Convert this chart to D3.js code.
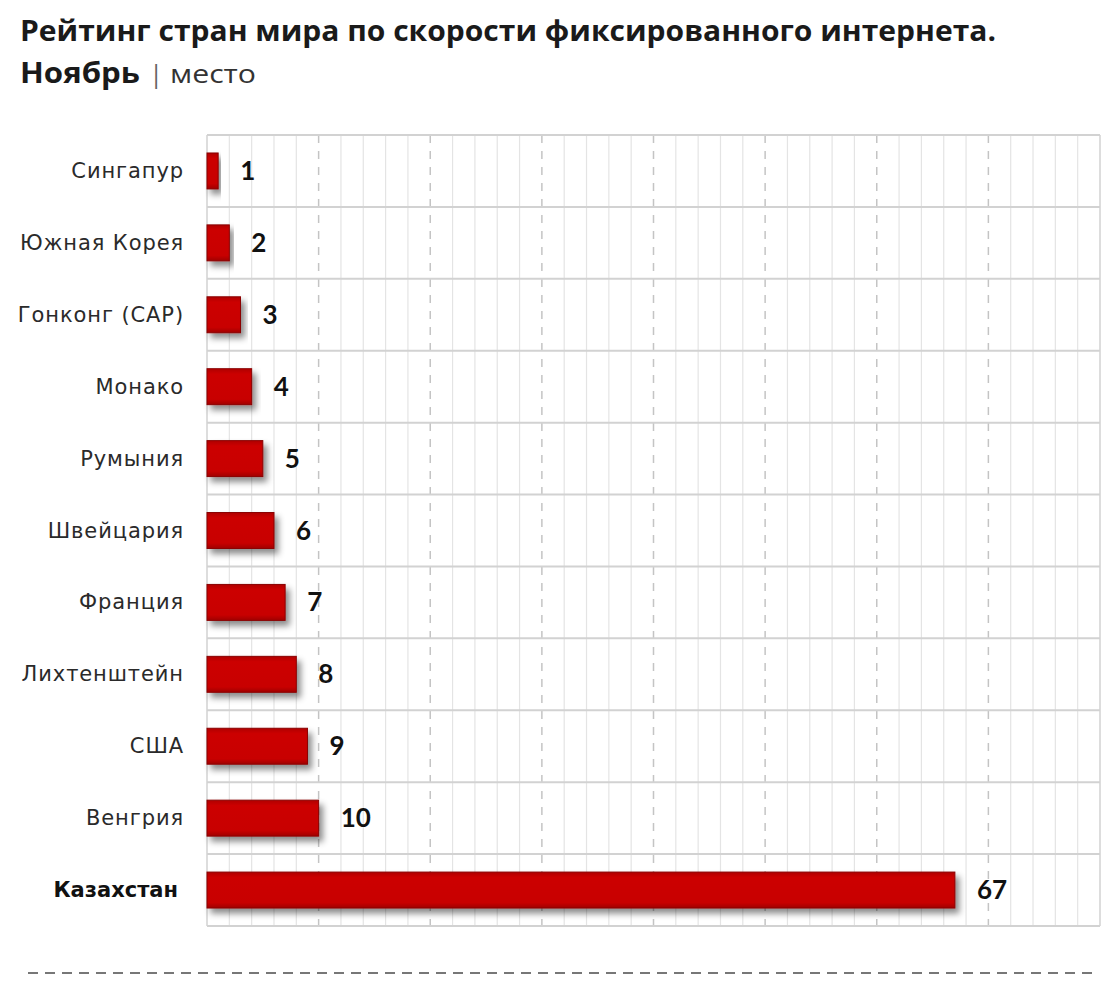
<!DOCTYPE html>
<html><head><meta charset="utf-8">
<script src="https://cdn.jsdelivr.net/npm/d3@7"></script>
<style>body{margin:0;background:#fff}</style>
</head><body>
<script>
const countries = ["Сингапур","Южная Корея","Гонконг (САР)","Монако","Румыния","Швейцария","Франция","Лихтенштейн","США","Венгрия","Казахстан"];
const ranks = [1,2,3,4,5,6,7,8,9,10,67];
const highlight = ["Казахстан"];
const xMax = 80;
const majorStep = 10, minorStep = 2;
const title = "Рейтинг стран мира по скорости фиксированного интернета.";
const subtitleBold = "Ноябрь";
const subtitleUnit = "место";

const W = 1120, H = 983;
const svg = d3.select("body").append("svg").attr("width", W).attr("height", H);
const defs = svg.append("defs");
const f = defs.append("filter").attr("id","sh").attr("x","-10%").attr("y","-30%").attr("width","130%").attr("height","180%");
f.append("feDropShadow").attr("dx",4).attr("dy",5).attr("stdDeviation",3).attr("flood-color","#000").attr("flood-opacity",0.45);
const g1 = defs.append("linearGradient").attr("id","bg").attr("x1",0).attr("y1",0).attr("x2",0).attr("y2",1);
g1.append("stop").attr("offset","0%").attr("stop-color","#b00000");
g1.append("stop").attr("offset","15%").attr("stop-color","#cc0000");
g1.append("stop").attr("offset","85%").attr("stop-color","#c80000");
g1.append("stop").attr("offset","100%").attr("stop-color","#a00000");

const L = 207, R = 1100, T = 135, B = 926;
const x = d3.scaleLinear().domain([0, xMax]).range([L, R]);
const y = d3.scaleBand().domain(countries).range([T, B]).paddingInner(0.5).paddingOuter(0.25);
const rowY = d3.scaleBand().domain(countries).range([T, B]);

// Title
svg.append("text").attr("x",20).attr("y",41).attr("font-family","Open Sans, sans-serif").attr("font-weight",700)
  .attr("font-size",29).attr("fill","#1a1a1a").attr("textLength",976).attr("lengthAdjust","spacingAndGlyphs").text(title);
const st = svg.append("text").attr("x",20).attr("y",83).attr("font-family","Open Sans, sans-serif").attr("fill","#1a1a1a");
st.append("tspan").attr("font-weight",700).attr("font-size",29).attr("textLength",120).attr("lengthAdjust","spacingAndGlyphs").text(subtitleBold);
st.append("tspan").attr("x",149).attr("font-size",26).attr("fill","#666").text("|");
st.append("tspan").attr("x",170).attr("font-size",25).attr("fill","#333").attr("textLength",86).attr("lengthAdjust","spacingAndGlyphs").text(subtitleUnit);

// Grid
const grid = svg.append("g");
const minor = d3.range(0, xMax + 0.001, minorStep).filter(v => v % majorStep !== 0);
grid.selectAll("line.mn").data(minor).join("line")
  .attr("x1", d => x(d)).attr("x2", d => x(d)).attr("y1", T).attr("y2", B)
  .attr("stroke","#e4e4e4").attr("stroke-width",1.2);
const major = d3.range(majorStep, xMax, majorStep);
grid.selectAll("line.mj").data(major).join("line")
  .attr("x1", d => x(d)).attr("x2", d => x(d)).attr("y1", T).attr("y2", B)
  .attr("stroke","#c4c4c4").attr("stroke-width",1.5).attr("stroke-dasharray","8,8");
grid.selectAll("line.rw").data(countries.concat(["_end"])).join("line")
  .attr("x1", L).attr("x2", R)
  .attr("y1", (d,i) => i < countries.length ? rowY(d) : B)
  .attr("y2", (d,i) => i < countries.length ? rowY(d) : B)
  .attr("stroke","#d2d2d2").attr("stroke-width",2);
grid.selectAll("line.bd").data([0, xMax]).join("line")
  .attr("x1", d => x(d)).attr("x2", d => x(d)).attr("y1", T).attr("y2", B)
  .attr("stroke","#d2d2d2").attr("stroke-width",1.5);

// Bars
svg.append("g").selectAll("rect").data(countries).join("rect")
  .attr("x", x(0)).attr("y", d => y(d))
  .attr("width", (d,i) => x(ranks[i]) - x(0)).attr("height", y.bandwidth())
  .attr("fill","url(#bg)").attr("stroke","#8a0000").attr("stroke-width",1)
  .attr("filter","url(#sh)");

// Value labels
svg.append("g").selectAll("text").data(countries).join("text")
  .attr("x", (d,i) => x(ranks[i]) + 22).attr("y", d => y(d) + y.bandwidth()/2 + 9)
  .attr("font-family","Lato, sans-serif").attr("font-weight",700).attr("font-size",26).attr("fill","#111")
  .text((d,i) => ranks[i]);

// Category labels
svg.append("g").selectAll("text").data(countries).join("text")
  .attr("x", d => highlight.includes(d) ? 178 : 184).attr("y", d => y(d) + y.bandwidth()/2 + 7)
  .attr("text-anchor","end")
  .attr("font-family","DejaVu Sans, sans-serif")
  .attr("font-weight", d => highlight.includes(d) ? 700 : 400)
  .attr("font-size",21).attr("letter-spacing", d => highlight.includes(d) ? 0 : 0.9)
  .attr("fill", d => highlight.includes(d) ? "#111" : "#2a2a2a")
  .text(d => d);

// Bottom dashed rule
svg.append("line").attr("x1",28).attr("x2",1098).attr("y1",973).attr("y2",973)
  .attr("stroke","#777").attr("stroke-width",2).attr("stroke-dasharray","10,7");
</script>
</body></html>
